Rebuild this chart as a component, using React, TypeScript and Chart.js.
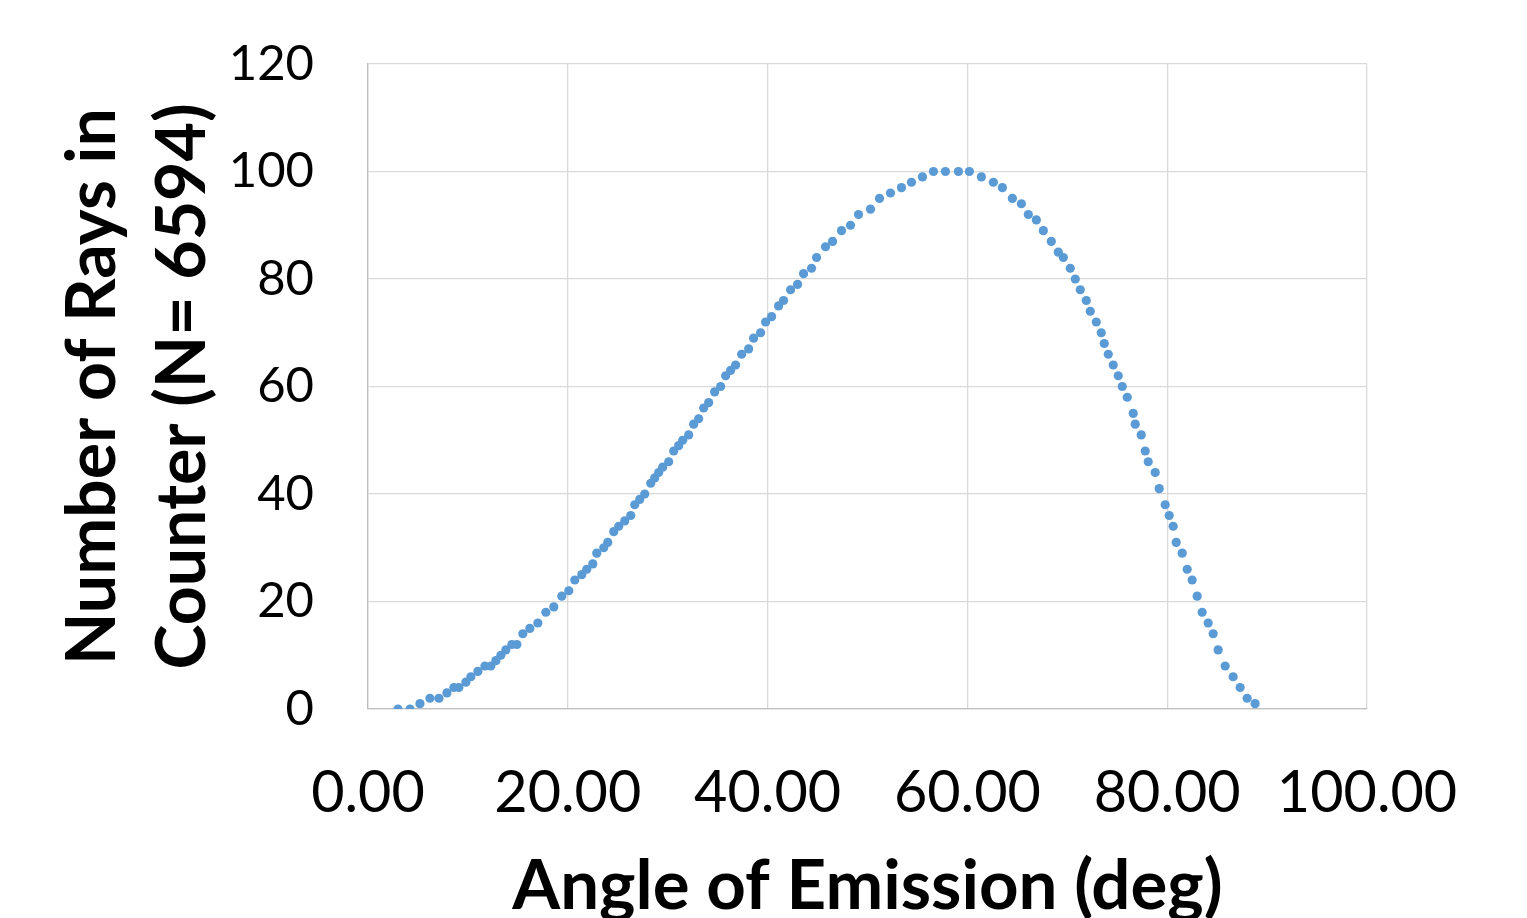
import React, { useEffect, useRef } from "react";
import { Chart, registerables } from "chart.js";

Chart.register(...registerables);

const angles: number[] = [
  3.0, 4.2, 5.2, 6.2, 7.1, 7.9, 8.6, 9.1, 9.8, 10.3, 11.0, 11.7, 12.3, 12.8, 13.3, 13.8, 14.4, 14.9,
  15.5, 16.2, 17.0, 17.8, 18.6, 19.4, 20.1, 20.7, 21.4, 21.9, 22.5, 22.9, 23.6, 24.0, 24.6, 25.1,
  25.7, 26.3, 26.7, 27.2, 27.7, 28.3, 28.7, 29.1, 29.5, 30.1, 30.6, 31.1, 31.5, 32.1, 32.6, 33.1,
  33.6, 34.1, 34.7, 35.3, 35.8, 36.3, 36.8, 37.4, 38.1, 38.6, 39.3, 39.8, 40.4, 41.1, 41.6, 42.3,
  43.0, 43.6, 44.4, 44.9, 45.8, 46.5, 47.4, 48.3, 49.1, 50.3, 51.2, 52.3, 53.4, 54.4, 55.5, 56.6,
  57.8, 59.1, 60.2, 61.4, 62.6, 63.5, 64.5, 65.4, 66.1, 66.9, 67.6, 68.4, 69.1, 69.6, 70.3, 70.8,
  71.3, 71.9, 72.3, 72.9, 73.4, 73.7, 74.1, 74.6, 75.1, 75.5, 76.0, 76.6, 76.8, 77.4, 77.8, 78.1,
  78.8, 79.2, 79.8, 80.2, 80.6, 80.9, 81.5, 82.0, 82.5, 83.0, 83.5, 84.1, 84.6, 85.1, 85.8, 86.6,
  87.3, 88.0, 88.8,
];

const rays: number[] = [
  0, 0, 1, 2, 2, 3, 4, 4, 5, 6, 7, 8, 8, 9, 10, 11, 12, 12,
  14, 15, 16, 18, 19, 21, 22, 24, 25, 26, 27, 29, 30, 31, 33, 34,
  35, 36, 38, 39, 40, 42, 43, 44, 45, 46, 48, 49, 50, 51, 53, 54,
  56, 57, 59, 60, 62, 63, 64, 66, 67, 69, 70, 72, 73, 75, 76, 78,
  79, 81, 82, 84, 86, 87, 89, 90, 92, 93, 95, 96, 97, 98, 99, 100,
  100, 100, 100, 99, 98, 97, 95, 94, 92, 91, 89, 87, 85, 84, 82, 80,
  78, 76, 74, 72, 70, 68, 66, 64, 62, 60, 58, 55, 53, 51, 48, 46,
  44, 41, 38, 36, 34, 31, 29, 26, 24, 21, 18, 16, 14, 11, 8, 6,
  4, 2, 1,
];

const xTitle = "Angle of Emission (deg)";
const yTitleLines = ["Number of Rays in", "Counter (N= 6594)"];

export default function App() {
  const ref = useRef<HTMLCanvasElement | null>(null);

  useEffect(() => {
    if (!ref.current) return;
    const points = angles.map((a, i) => ({ x: a, y: rays[i] }));
    const chart = new Chart(ref.current, {
      type: "scatter",
      data: {
        datasets: [
          {
            data: points,
            backgroundColor: "#5B9BD5",
            borderWidth: 0,
            pointRadius: 4.6,
            pointHoverRadius: 4.6,
          },
        ],
      },
      options: {
        animation: false,
        responsive: false,
        events: [],
        layout: { padding: { top: 64, right: 160, bottom: 0, left: 0 } },
        plugins: { legend: { display: false }, tooltip: { enabled: false } },
        scales: {
          x: {
            type: "linear",
            min: 0,
            max: 100,
            afterFit: (s: any) => {
              s.height = 209;
              s.paddingLeft = 0;
              s.paddingRight = 0;
            },
            ticks: {
              stepSize: 20,
              padding: 50,
              color: "#000",
              font: { family: "Lato", size: 57.5 },
              callback: (v: any) => Number(v).toFixed(2),
            },
            grid: { color: "#d9d9d9", lineWidth: 1.3, drawTicks: false },
            border: { color: "#bfbfbf", width: 1.3 },
            title: {
              display: true,
              text: xTitle,
              color: "#000",
              font: { family: "Lato", size: 69, weight: "bold", lineHeight: 0.9 },
              padding: { top: 0, bottom: 0 },
            },
          },
          y: {
            type: "linear",
            min: 0,
            max: 120,
            afterFit: (s: any) => {
              s.width = 368;
              s.paddingTop = 0;
              s.paddingBottom = 0;
            },
            ticks: {
              stepSize: 20,
              padding: 54,
              color: "#000",
              font: { family: "Lato", size: 49 },
            },
            grid: { color: "#d9d9d9", lineWidth: 1.3, drawTicks: false },
            border: { color: "#bfbfbf", width: 1.3 },
            title: {
              display: true,
              text: yTitleLines,
              color: "#000",
              font: { family: "Lato", size: 68, weight: "bold", lineHeight: 1.32 },
              padding: { top: 48, bottom: 0 },
            },
          },
        },
      },
    });
    return () => chart.destroy();
  }, []);

  return (
    <div style={{ position: "absolute", left: 0, top: 0, width: 1527, height: 918, background: "#fff" }}>
      <canvas ref={ref} width={1527} height={918} style={{ display: "block" }} />
    </div>
  );
}
